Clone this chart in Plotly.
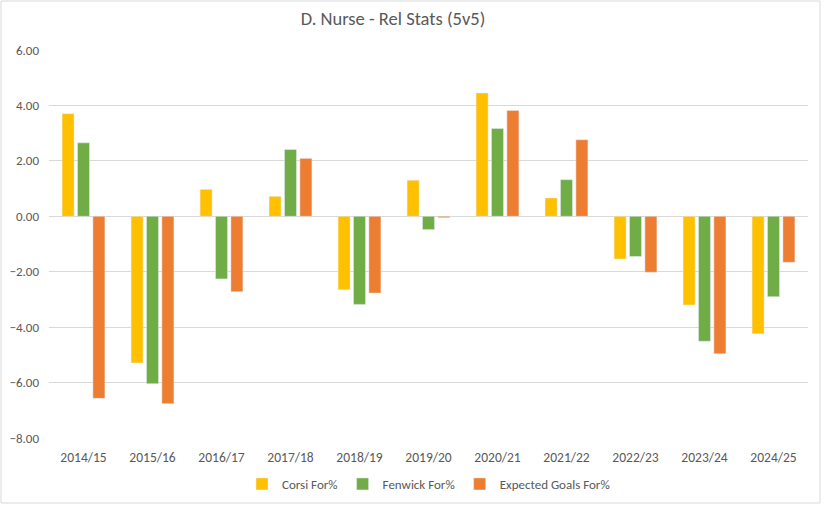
import plotly.graph_objects as go

seasons = ["2014/15", "2015/16", "2016/17", "2017/18", "2018/19", "2019/20",
           "2020/21", "2021/22", "2022/23", "2023/24", "2024/25"]
corsi = [3.70, -5.29, 0.97, 0.72, -2.65, 1.30, 4.45, 0.66, -1.54, -3.20, -4.24]
fenwick = [2.65, -6.04, -2.26, 2.41, -3.18, -0.48, 3.17, 1.32, -1.45, -4.51, -2.90]
xgoals = [-6.57, -6.76, -2.72, 2.09, -2.77, -0.05, 3.82, 2.76, -2.02, -4.96, -1.66]

W, H = 824, 505
L, R, T, B = 49, W - 808, 50, H - 438

fig = go.Figure()
fig.add_bar(x=seasons, y=corsi, name="Corsi For%", marker_color="#FFC000")
fig.add_bar(x=seasons, y=fenwick, name="Fenwick For%", marker_color="#70AD47")
fig.add_bar(x=seasons, y=xgoals, name="Expected Goals For%", marker_color="#ED7D31")

pw = W - L - R
ph = H - T - B
fig.add_shape(type="rect", xref="paper", yref="paper",
              x0=(1 - L) / pw, x1=(820 - L) / pw,
              y0=(438 - 503) / ph, y1=(438 - 1) / ph,
              line=dict(color="#D9D9D9", width=1), fillcolor="rgba(0,0,0,0)")

fig.update_layout(
    width=W, height=H,
    margin=dict(l=L, r=R, t=T, b=B, autoexpand=False),
    paper_bgcolor="white", plot_bgcolor="white",
    font=dict(family="Carlito, Calibri, Lato, sans-serif", size=12, color="#595959"),
    title=dict(text="D. Nurse - Rel Stats (5v5)", x=(411 - L) / pw, xanchor="center",
               y=1 - 19 / H, yanchor="middle", font=dict(size=18.5, color="#595959")),
    barmode="group", bargap=0.33, bargroupgap=0.22,
    showlegend=True,
    legend=dict(orientation="h", x=0.5, xanchor="center", y=(438 - 484) / ph, yanchor="middle",
                font=dict(size=13, color="#595959"), itemwidth=30, traceorder="normal"),
    xaxis=dict(showgrid=False, showline=False, ticks="", tickfont=dict(size=13.5, color="#595959"),
               ticklabelstandoff=9),
    yaxis=dict(range=[-8, 6], dtick=2, tickformat=".2f", showgrid=True, gridcolor="#D9D9D9",
               gridwidth=1, zeroline=True, zerolinecolor="#D9D9D9", zerolinewidth=1,
               showline=False, ticks="", tickfont=dict(size=13, color="#595959"), ticklabelstandoff=9),
)

fig.write_html("out.html", config={"displayModeBar": False},
               post_script="document.body.style.margin='0px';document.body.style.overflow='hidden';")
